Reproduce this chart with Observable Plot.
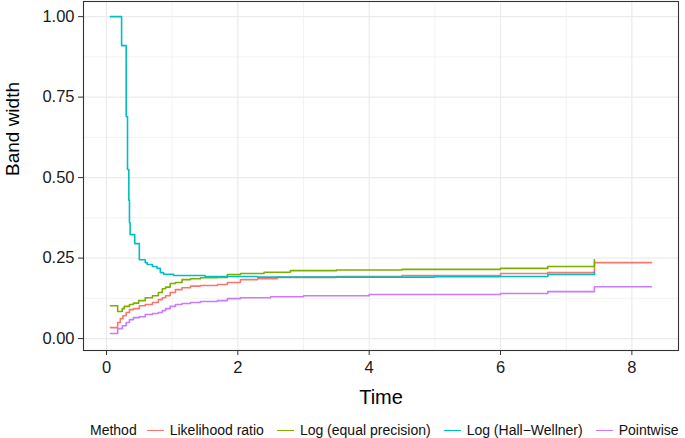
<!DOCTYPE html>
<html>
<head>
<meta charset="utf-8">
<script src="https://cdn.jsdelivr.net/npm/d3@7"></script>
<script src="https://cdn.jsdelivr.net/npm/@observablehq/plot@0.6"></script>
<style>
  html, body { margin: 0; padding: 0; background: #fff; }
  #wrap { position: relative; width: 685px; height: 438px; font-family: "Liberation Sans", Arial, sans-serif; }
  #legend { position: absolute; left: 90px; top: 421px; height: 18px; display: flex; align-items: center; font-size: 14px; color: #111; white-space: nowrap; }
  #legend .key { display: inline-block; width: 17px; height: 0; border-top: 1.5px solid; margin: 0 6px 0 0; }
  #legend .item { display: flex; align-items: center; margin-right: 13px; }
  #legend .title { margin-right: 10px; }
</style>
</head>
<body>
<div id="wrap"><div id="chart"></div><div id="legend"></div></div>
<script>
// Methods (legend order) and colours
const methods = ["Likelihood ratio", "Log (equal precision)", "Log (Hall\u2212Wellner)", "Pointwise"];
const colors = ["#F8766D", "#7CAE00", "#00BFC4", "#C77CFF"];

// Likelihood ratio
const timeLR = [0.06, 0.17, 0.21, 0.25, 0.30, 0.35, 0.41, 0.50, 0.59, 0.70, 0.79, 0.85, 0.90, 0.97, 1.05, 1.15, 1.28, 1.43, 1.69, 1.84, 2.04, 2.3, 2.6, 3.5, 4.5, 6.0, 6.72, 7.43, 8.30];
const bandLR = [0.034, 0.05, 0.062, 0.071, 0.081, 0.09, 0.093, 0.102, 0.106, 0.112, 0.121, 0.127, 0.133, 0.143, 0.152, 0.158, 0.163, 0.165, 0.168, 0.174, 0.183, 0.186, 0.19, 0.193, 0.196, 0.202, 0.205, 0.236, 0.236];

// Log (equal precision)
const timeEP = [0.06, 0.17, 0.24, 0.27, 0.35, 0.41, 0.49, 0.59, 0.70, 0.79, 0.85, 0.90, 0.97, 1.05, 1.15, 1.28, 1.43, 1.69, 1.84, 2.04, 2.4, 2.8, 3.5, 4.5, 6.0, 6.72, 7.43];
const bandEP = [0.102, 0.084, 0.093, 0.10, 0.106, 0.11, 0.118, 0.127, 0.133, 0.143, 0.155, 0.16, 0.171, 0.174, 0.183, 0.186, 0.189, 0.19, 0.199, 0.202, 0.206, 0.211, 0.213, 0.215, 0.218, 0.224, 0.245];

// Log (Hall-Wellner)
const timeHW = [0.06, 0.23, 0.30, 0.32, 0.34, 0.35, 0.36, 0.43, 0.50, 0.59, 0.62, 0.70, 0.77, 0.82, 0.87, 1.02, 1.5, 2.3, 3.5, 5.0, 6.0, 6.72, 7.43];
const bandHW = [1.00, 0.91, 0.69, 0.525, 0.43, 0.36, 0.323, 0.295, 0.245, 0.236, 0.23, 0.224, 0.218, 0.205, 0.20, 0.196, 0.193, 0.191, 0.191, 0.192, 0.193, 0.199, 0.207];

// Pointwise
const timePW = [0.06, 0.17, 0.24, 0.30, 0.35, 0.41, 0.50, 0.59, 0.70, 0.79, 0.85, 0.90, 0.97, 1.05, 1.15, 1.28, 1.43, 1.69, 1.84, 2.04, 2.5, 3.0, 4.0, 6.0, 6.72, 7.43, 8.30];
const bandPW = [0.016, 0.031, 0.04, 0.05, 0.059, 0.065, 0.068, 0.075, 0.078, 0.081, 0.087, 0.093, 0.10, 0.106, 0.109, 0.112, 0.115, 0.118, 0.124, 0.127, 0.13, 0.133, 0.137, 0.14, 0.146, 0.161, 0.161];

// Axis ticks
const xTicks = [0, 2, 4, 6, 8];
const xMinor = [1, 3, 5, 7];
const yTicks = [0, 0.25, 0.5, 0.75, 1.0];
const yMinor = [0.125, 0.375, 0.625, 0.875];

const series = [[timeLR, bandLR], [timeEP, bandEP], [timeHW, bandHW], [timePW, bandPW]];
const rows = [];
series.forEach(([ts, vs], k) => ts.forEach((t, i) => rows.push({method: methods[k], time: t, band: vs[i]})));

const ink = "#1a1a1a";
const chart = Plot.plot({
  width: 685,
  height: 410,
  marginLeft: 83,
  marginRight: 7,
  marginTop: 1,
  marginBottom: 60,
  style: {fontFamily: "'Liberation Sans', Arial, sans-serif", background: "#fff"},
  x: {domain: [-0.35, 8.71]},
  y: {domain: [-0.037, 1.047]},
  color: {domain: methods, range: colors},
  marks: [
    Plot.gridX(xMinor, {stroke: "#EBEBEB", strokeOpacity: 1, strokeWidth: 0.6}),
    Plot.gridY(yMinor, {stroke: "#EBEBEB", strokeOpacity: 1, strokeWidth: 0.6}),
    Plot.gridX(xTicks, {stroke: "#EBEBEB", strokeOpacity: 1, strokeWidth: 1.2}),
    Plot.gridY(yTicks, {stroke: "#EBEBEB", strokeOpacity: 1, strokeWidth: 1.2}),
    Plot.line(rows, {x: "time", y: "band", z: "method", stroke: "method", curve: "step-after", strokeWidth: 1.6}),
    Plot.frame({stroke: "#333", strokeWidth: 1.1}),
    Plot.axisX(xTicks, {tickSize: 5, tickPadding: 6, fontSize: 16.5, stroke: "#333", fill: ink, label: null, tickFormat: d3.format("d")}),
    Plot.axisY(yTicks, {tickSize: 5, tickPadding: 4, fontSize: 16.5, stroke: "#333", fill: ink, label: null, tickFormat: d3.format(".2f")}),
    Plot.text(["Time"], {frameAnchor: "bottom", dy: 53, fontSize: 20, fill: "#000"}),
    Plot.text(["Band width"], {frameAnchor: "left", dx: -71, rotate: -90, fontSize: 19, fill: "#000"})
  ]
});
document.getElementById("chart").appendChild(chart);

// Legend
const legend = document.getElementById("legend");
const title = document.createElement("span");
title.className = "title";
title.textContent = "Method";
legend.appendChild(title);
methods.forEach((m, i) => {
  const item = document.createElement("span");
  item.className = "item";
  const key = document.createElement("span");
  key.className = "key";
  key.style.borderTopColor = colors[i];
  const label = document.createElement("span");
  label.textContent = m;
  item.appendChild(key);
  item.appendChild(label);
  legend.appendChild(item);
});
</script>
</body>
</html>
